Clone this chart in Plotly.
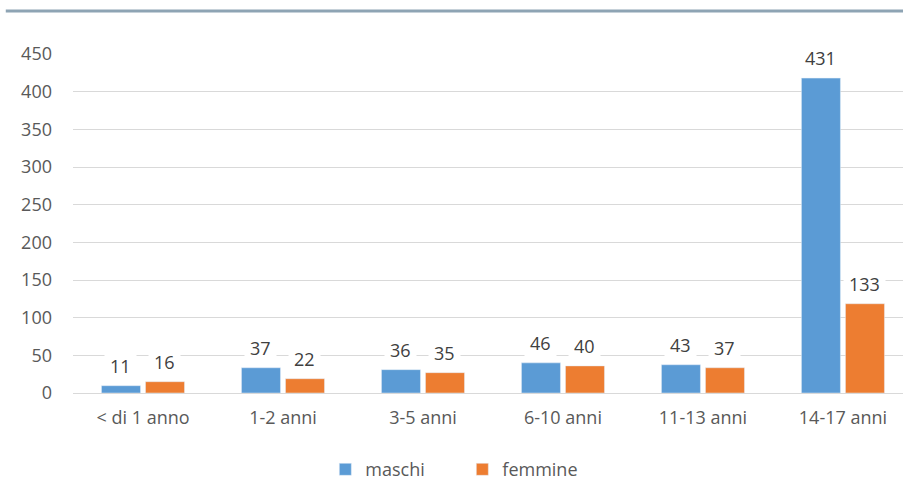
import plotly.graph_objects as go

# categories and series (bar heights as drawn, labels as printed)
categories = ["< di 1 anno", "1-2 anni", "3-5 anni", "6-10 anni", "11-13 anni", "14-17 anni"]
maschi = [9.7, 33.5, 31, 40, 37.5, 418]
femmine = [15, 19, 27, 36, 33.5, 118.5]
maschi_labels = ["11", "37", "36", "46", "43", "431"]
femmine_labels = ["16", "22", "35", "40", "37", "133"]
y_ticks = [0, 50, 100, 150, 200, 250, 300, 350, 400, 450]

BLUE = "#5b9bd5"
ORANGE = "#ed7d31"
FONT = "Open Sans"

fig = go.Figure()
fig.add_trace(go.Bar(x=categories, y=maschi, name="maschi", marker_color=BLUE))
fig.add_trace(go.Bar(x=categories, y=femmine, name="femmine", marker_color=ORANGE))

# data labels with white background, like the original
for vals, labels, shift in [(maschi, maschi_labels, -22), (femmine, femmine_labels, 22)]:
    for cat, v, lab in zip(categories, vals, labels):
        fig.add_annotation(
            x=cat, y=v, text=lab, showarrow=False,
            xshift=shift, yshift=2, yanchor="bottom",
            bgcolor="white", borderpad=5,
            font=dict(family=FONT, size=18, color="#404040"),
        )

# thin rule across the top
fig.add_shape(
    type="line", xref="paper", yref="paper",
    x0=-0.081, x1=1.0, y0=1.127, y1=1.127,
    line=dict(color="#8ea4b4", width=3),
)

fig.update_layout(
    width=903,
    height=479,
    margin=dict(l=73, r=0, t=54, b=86, autoexpand=False),
    plot_bgcolor="white",
    paper_bgcolor="white",
    font=dict(family=FONT, size=18, color="#595959"),
    barmode="group",
    bargap=0.371,
    bargroupgap=0.114,
    showlegend=True,
    legend=dict(
        orientation="h",
        x=0.304, xanchor="left",
        y=-0.226, yanchor="middle",
        entrywidth=92,
        font=dict(family=FONT, size=18, color="#595959"),
    ),
)
fig.update_xaxes(
    range=[-0.5, 5.429],
    showgrid=False,
    showline=False,
    ticks="",
    ticklabelstandoff=12,
)
fig.update_yaxes(
    range=[0, 450],
    tickvals=y_ticks,
    showgrid=True,
    gridcolor="#d9d9d9",
    gridwidth=1,
    zeroline=True,
    zerolinecolor="#d9d9d9",
    zerolinewidth=1,
    ticks="",
    ticklabelstandoff=20,
)

# drop the default page margin so the figure fills the window exactly
fig.write_html(
    "out.html",
    config={"displayModeBar": False},
    post_script="document.body.style.margin='0';document.body.style.overflow='hidden';",
)
